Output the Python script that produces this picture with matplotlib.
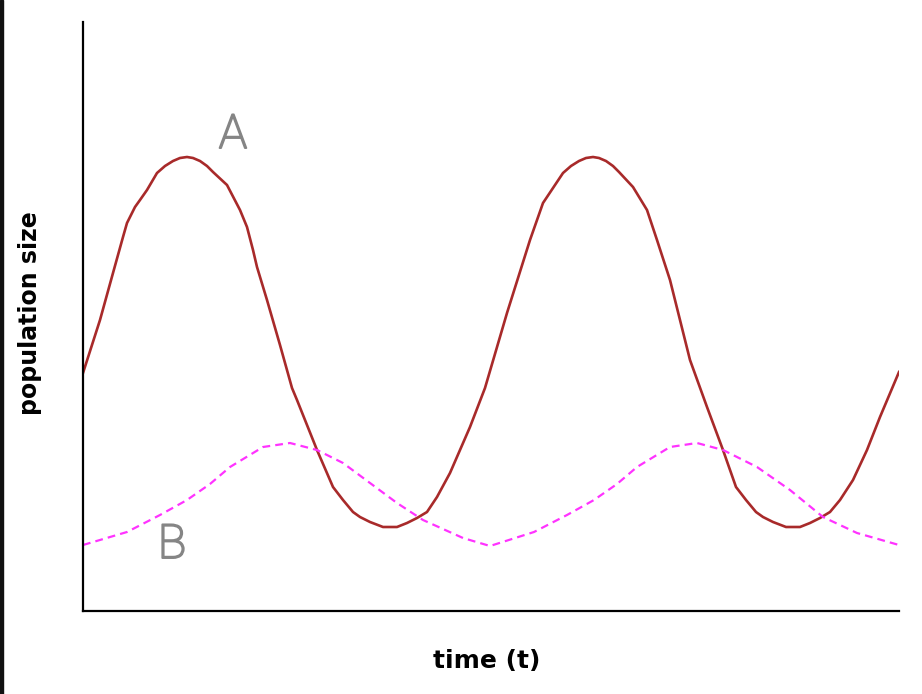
import matplotlib.pyplot as plt
import matplotlib.patheffects as pe
from matplotlib.patches import Rectangle

# curve A (solid red)
t_a = [0, 17, 30, 40, 44, 52, 57, 64, 74, 82, 90, 97, 104, 110, 117, 124, 130, 144, 157, 164,
       170, 174, 184, 197, 209, 214, 234, 250, 260, 270, 277, 287, 300, 314, 324, 334, 344, 354, 367, 387,
       402, 424, 447, 460, 470, 480, 488, 496, 503, 510, 516, 523, 530, 536, 550, 564, 574, 587, 597, 607,
       624, 640, 653, 663, 673, 680, 690, 703, 717, 727, 737, 747, 757, 770, 784, 797, 816]
pop_a = [238, 291, 338, 374, 388, 404, 411, 421, 438, 445, 450, 453, 454, 453, 450, 445, 439, 426, 401, 384,
         361, 344, 311, 266, 223, 211, 161, 124, 111, 99, 94, 89, 84, 84, 88, 93, 99, 114, 138, 184,
         223, 298, 371, 408, 423, 438, 445, 450, 453, 454, 453, 450, 445, 439, 424, 401, 371, 331, 291, 251,
         204, 161, 124, 111, 99, 94, 89, 84, 84, 88, 93, 99, 111, 131, 161, 194, 239]

# curve B (dashed magenta)
t_b = [0, 44, 77, 104, 127, 147, 180, 207, 234, 260, 287, 314, 340, 380, 407, 451, 484, 511, 534, 554,
       587, 614, 640, 674, 707, 740, 774, 816]
pop_b = [66, 79, 96, 111, 127, 144, 164, 168, 161, 148, 128, 108, 91, 73, 65, 79, 96, 111, 127, 144,
         164, 168, 161, 144, 121, 94, 78, 66]

fig = plt.figure(figsize=(9.22, 6.94), dpi=100)
ax = fig.add_axes([83/922, 1 - 611/694, (899 - 83)/922, (611 - 22)/694])

ax.plot(t_a, pop_a, color='#a82a2a', lw=1.9)
ax.plot(t_b, pop_b, color='#ff33ff', lw=1.6, dashes=(3.5, 2.3))

ax.set_xlim(0, 816)
ax.set_ylim(0, 589)
ax.spines['top'].set_visible(False)
ax.spines['right'].set_visible(False)
ax.spines['left'].set_linewidth(1.6)
ax.spines['bottom'].set_linewidth(1.6)
ax.set_xticks([])
ax.set_yticks([])

# hand drawn style letters (thin font, thickened a little)
pencil = [pe.withStroke(linewidth=1.4, foreground='#858585')]
ax.text(150, 476, 'A', color='#858585', fontsize=34, ha='center', va='center',
        family='Roboto', fontweight='light', path_effects=pencil)
ax.text(89, 66, 'B', color='#858585', fontsize=34, ha='center', va='center',
        family='Roboto', fontweight='light', path_effects=pencil)

fig.text(30/922, 1 - 313/694, 'population size', rotation=90, ha='center', va='center',
         fontsize=17, fontweight='bold')
fig.text(487/922, 1 - 661/694, 'time (t)', ha='center', va='center',
         fontsize=18, fontweight='bold')

# dark strip at left edge
fig.patches.append(Rectangle((0, 0), 3/922, 1, transform=fig.transFigure, color='#111111'))

fig.savefig('out.png', dpi=100)
